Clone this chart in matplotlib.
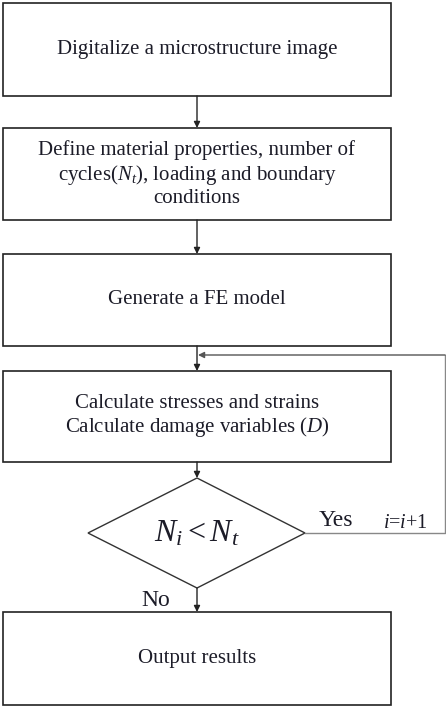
import matplotlib.pyplot as plt
from matplotlib.patches import Rectangle, Polygon

# =========================
# Flowchart content
# =========================

box_labels = [
    "Digitalize a microstructure image",
    "Define material properties, number of\ncycles($N_t$), loading and boundary\nconditions",
    "Generate a FE model",
    "Calculate stresses and strains\nCalculate damage variables ($D$)",
    "Output results",
]
box_tops = [3, 128, 254, 371, 612]
box_bottoms = [96, 220, 346, 462, 705]

decision_label = r"$N_i < N_t$"
yes_label = "Yes"
no_label = "No"
loop_label = r"$i$=$i$+1"

plt.rcParams["font.family"] = ["Liberation Serif", "DejaVu Serif"]
plt.rcParams["mathtext.fontset"] = "custom"
plt.rcParams["mathtext.rm"] = "Liberation Serif"
plt.rcParams["mathtext.it"] = "Liberation Serif:italic"

fig = plt.figure(figsize=(4.46, 7.06), dpi=100)
ax = fig.add_axes([0, 0, 1, 1])
ax.set_xlim(0, 446)
ax.set_ylim(706, 0)
ax.axis("off")

left, right = 3, 391
cx = (left + right) / 2
text_color = "#1c1c28"

# =========================
# Boxes
# =========================

for label, top, bottom in zip(box_labels, box_tops, box_bottoms):
    ax.add_patch(Rectangle((left, top), right - left, bottom - top,
                           fill=False, edgecolor="#222222", lw=1.2))
    ax.text(cx, (top + bottom) / 2, label, ha="center", va="center",
            fontsize=15, color=text_color, linespacing=1.15)

# =========================
# Decision diamond
# =========================

d_top, d_bottom = 478, 588
d_left, d_right = 88, 305
d_mid = (d_top + d_bottom) / 2
ax.add_patch(Polygon([(cx, d_top), (d_right, d_mid), (cx, d_bottom), (d_left, d_mid)],
                     closed=True, fill=False, edgecolor="#333333", lw=1.0))
ax.text(cx, d_mid + 1, decision_label, ha="center", va="center",
        fontsize=23, color=text_color)

# =========================
# Arrows
# =========================

def down_arrow(y0, y1):
    ax.annotate("", xy=(cx, y1), xytext=(cx, y0),
                arrowprops=dict(arrowstyle="-|>", color="#222222", lw=1.0,
                                mutation_scale=9, shrinkA=0, shrinkB=0))

down_arrow(box_bottoms[0], box_tops[1])
down_arrow(box_bottoms[1], box_tops[2])
down_arrow(box_bottoms[2], box_tops[3])
down_arrow(box_bottoms[3], d_top)
down_arrow(d_bottom, box_tops[4])

# loop back (Yes branch)
loop_x = 445
loop_y = 355
ax.plot([d_right, loop_x, loop_x], [d_mid, d_mid, loop_y], color="#888888", lw=1.0)
ax.annotate("", xy=(cx + 1, loop_y), xytext=(loop_x, loop_y),
            arrowprops=dict(arrowstyle="-|>", color="#555555", lw=1.0,
                            mutation_scale=9, shrinkA=0, shrinkB=0))

ax.text(319, 520, yes_label, ha="left", va="center", fontsize=17, color=text_color)
ax.text(383, 523, loop_label, ha="left", va="center", fontsize=14.5, color=text_color)
ax.text(141, 600, no_label, ha="left", va="center", fontsize=17, color=text_color)

plt.savefig("out.png", dpi=100)
